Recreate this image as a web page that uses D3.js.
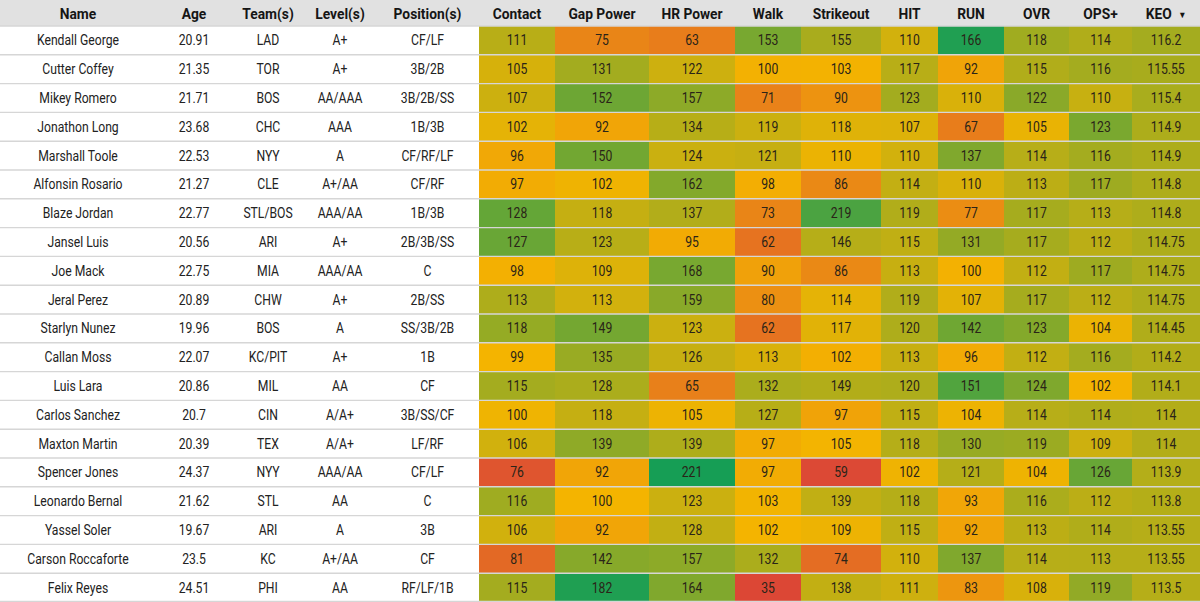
<!DOCTYPE html>
<html>
<head>
<meta charset="utf-8">
<script src="https://cdn.jsdelivr.net/npm/d3@7"></script>
<style>
  html, body { margin: 0; padding: 0; background: #fff; }
  svg { display: block; font-family: Roboto, "Noto Sans", sans-serif; }
</style>
</head>
<body>
<div id="chart"></div>
<script>
// --- data (sorted by KEO) ---
const names = ["Kendall George", "Cutter Coffey", "Mikey Romero", "Jonathon Long", "Marshall Toole",
  "Alfonsin Rosario", "Blaze Jordan", "Jansel Luis", "Joe Mack", "Jeral Perez", "Starlyn Nunez",
  "Callan Moss", "Luis Lara", "Carlos Sanchez", "Maxton Martin", "Spencer Jones", "Leonardo Bernal",
  "Yassel Soler", "Carson Roccaforte", "Felix Reyes"];
const ages = [20.91, 21.35, 21.71, 23.68, 22.53, 21.27, 22.77, 20.56, 22.75, 20.89, 19.96,
  22.07, 20.86, 20.7, 20.39, 24.37, 21.62, 19.67, 23.5, 24.51];
const teams = ["LAD", "TOR", "BOS", "CHC", "NYY", "CLE", "STL/BOS", "ARI", "MIA", "CHW", "BOS",
  "KC/PIT", "MIL", "CIN", "TEX", "NYY", "STL", "ARI", "KC", "PHI"];
const levels = ["A+", "A+", "AA/AAA", "AAA", "A", "A+/AA", "AAA/AA", "A+", "AAA/AA", "A+", "A",
  "A+", "AA", "A/A+", "A/A+", "AAA/AA", "AA", "A", "A+/AA", "AA"];
const positions = ["CF/LF", "3B/2B", "3B/2B/SS", "1B/3B", "CF/RF/LF", "CF/RF", "1B/3B", "2B/3B/SS",
  "C", "2B/SS", "SS/3B/2B", "1B", "CF", "3B/SS/CF", "LF/RF", "CF/LF", "C", "3B", "CF", "RF/LF/1B"];

const contact   = [111, 105, 107, 102, 96, 97, 128, 127, 98, 113, 118, 99, 115, 100, 106, 76, 116, 106, 81, 115];
const gapPower  = [75, 131, 152, 92, 150, 102, 118, 123, 109, 113, 149, 135, 128, 118, 139, 92, 100, 92, 142, 182];
const hrPower   = [63, 122, 157, 134, 124, 162, 137, 95, 168, 159, 123, 126, 65, 105, 139, 221, 123, 128, 157, 164];
const walk      = [153, 100, 71, 119, 121, 98, 73, 62, 90, 80, 62, 113, 132, 127, 97, 97, 103, 102, 132, 35];
const strikeout = [155, 103, 90, 118, 110, 86, 219, 146, 86, 114, 117, 102, 149, 97, 105, 59, 139, 109, 74, 138];
const hit       = [110, 117, 123, 107, 110, 114, 119, 115, 113, 119, 120, 113, 120, 115, 118, 102, 118, 115, 110, 111];
const run       = [166, 92, 110, 67, 137, 110, 77, 131, 100, 107, 142, 96, 151, 104, 130, 121, 93, 92, 137, 83];
const ovr       = [118, 115, 122, 105, 114, 113, 117, 117, 112, 117, 123, 112, 124, 114, 119, 104, 116, 113, 114, 108];
const opsPlus   = [114, 116, 110, 123, 116, 117, 113, 112, 117, 112, 104, 116, 102, 114, 109, 126, 112, 114, 113, 119];
const keo       = [116.2, 115.55, 115.4, 114.9, 114.9, 114.8, 114.8, 114.75, 114.75, 114.75, 114.45,
  114.2, 114.1, 114, 114, 113.9, 113.8, 113.55, 113.55, 113.5];

const textHeaders = ["Name", "Age", "Team(s)", "Level(s)", "Position(s)"];
const statHeaders = ["Contact", "Gap Power", "HR Power", "Walk", "Strikeout", "HIT", "RUN", "OVR", "OPS+", "KEO"];

// --- layout ---
const W = 1200, H = 602, headerH = 26;
const colWidths = [156, 76, 72, 72, 103, 76, 94, 86, 66, 80, 57, 66, 65, 63, 68];
// low / mid / high anchors of each column's red-yellow-green scale (whole-sheet ranges, estimated)
const colorDomains = [[72, 99, 145], [41, 100, 188], [24, 101, 225], [33, 102, 196], [57, 104, 260],
  [40, 100.5, 164], [31, 102, 171], [60, 103, 144], [50, 102.5, 141], [70, 104.5, 138]];
const RED = "#DB4437", YELLOW = "#F4B400", GREEN = "#0F9D58";

const textCols = [names, ages, teams, levels, positions];
const statCols = [contact, gapPower, hrPower, walk, strikeout, hit, run, ovr, opsPlus, keo];

const colX = [0];
colWidths.forEach((w, i) => colX.push(colX[i] + w));

const y = d3.scaleBand().domain(d3.range(names.length)).range([headerH, H]);

const svg = d3.select("#chart").append("svg")
  .attr("width", W).attr("height", H)
  .attr("viewBox", `0 0 ${W} ${H}`);

// header band
svg.append("rect").attr("x", 0).attr("y", 0).attr("width", W).attr("height", headerH)
  .attr("fill", "#e1e1e1");

// heatmap cells
statCols.forEach((vals, ci) => {
  const c = ci + textCols.length;
  const color = d3.scaleLinear().domain(colorDomains[ci]).range([RED, YELLOW, GREEN]).clamp(true);
  svg.append("g").selectAll("rect")
    .data(vals)
    .join("rect")
    .attr("x", colX[c])
    .attr("y", (d, i) => y(i))
    .attr("width", colWidths[c])
    .attr("height", y.bandwidth())
    .attr("fill", d => color(d));
});

// row separators
svg.append("g").selectAll("line")
  .data(d3.range(names.length + 1))
  .join("line")
  .attr("x1", 0).attr("x2", W)
  .attr("y1", i => (i < names.length ? y(i) : H - 0.5))
  .attr("y2", i => (i < names.length ? y(i) : H - 0.5))
  .attr("stroke", "#d6d6d6")
  .attr("stroke-width", 1.4);

// body text
const allCols = textCols.concat(statCols);
allCols.forEach((vals, c) => {
  const cx = colX[c] + colWidths[c] / 2;
  svg.append("g").selectAll("text")
    .data(vals)
    .join("text")
    .attr("transform", (d, i) => `translate(${cx},${y(i) + y.bandwidth() / 2 + 5}) scale(0.87,1)`)
    .attr("text-anchor", "middle")
    .attr("font-size", 14)
    .attr("fill", c < textCols.length ? "#222" : "#2a2418")
    .text(d => d);
});

// header text
textHeaders.concat(statHeaders).forEach((h, c) => {
  const cx = colX[c] + colWidths[c] / 2;
  const t = svg.append("text")
    .attr("transform", `translate(${cx},${headerH / 2 + 5.5}) scale(0.92,1)`)
    .attr("text-anchor", "middle")
    .attr("font-size", 15)
    .attr("font-weight", "bold")
    .attr("fill", "#151515")
    .text(h);
  if (h === "KEO") {
    t.append("tspan").attr("font-size", 9).attr("dx", 7).attr("dy", -1).text("▼");
  }
});
</script>
</body>
</html>
